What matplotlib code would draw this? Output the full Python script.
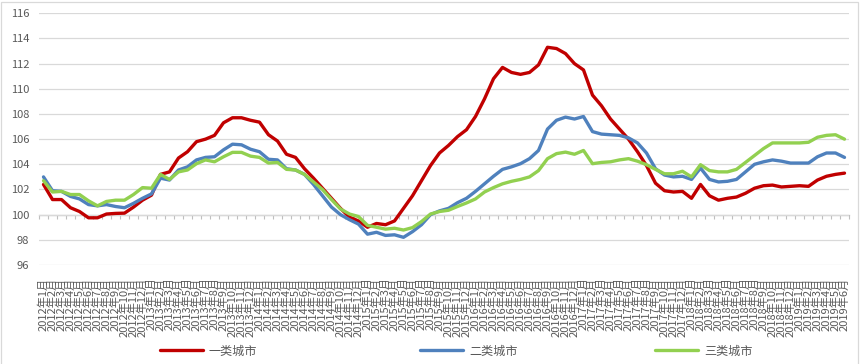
import matplotlib
matplotlib.use('Agg')
import matplotlib.pyplot as plt
import numpy as np
from matplotlib.patches import Rectangle

plt.rcParams['font.family'] = ['Noto Sans CJK SC', 'DejaVu Sans']

years = [2012, 2013, 2014, 2015, 2016, 2017, 2018, 2019]
months = [1, 2, 3, 4, 5, 6, 7, 8, 9, 10, 11, 12]
labels = [f"{y}年{m}月" for y in years for m in months][:90]

tier1 = [102.4, 101.2, 101.2, 100.55, 100.25, 99.75, 99.75, 100.05, 100.1, 100.12,
         100.6, 101.15, 101.55, 103.2, 103.4, 104.5, 105.0, 105.8, 106.0, 106.3,
         107.3, 107.7, 107.7, 107.5, 107.35, 106.35, 105.85, 104.8, 104.55, 103.65,
         102.9, 102.1, 101.3, 100.5, 99.8, 99.5, 99.0, 99.3, 99.2, 99.5,
         100.5, 101.5, 102.7, 103.9, 104.9, 105.5, 106.2, 106.75, 107.8, 109.2,
         110.8, 111.7, 111.3, 111.15, 111.3, 111.9, 113.3, 113.2, 112.8, 112.0,
         111.5, 109.5, 108.65, 107.6, 106.8, 106.0, 105.0, 103.9, 102.5, 101.9,
         101.8, 101.85, 101.3, 102.4, 101.5, 101.15, 101.3, 101.4, 101.7, 102.1,
         102.3, 102.35, 102.2, 102.25, 102.3, 102.25, 102.75, 103.05, 103.2, 103.3]

tier2 = [103.0, 101.9, 101.85, 101.45, 101.25, 100.8, 100.7, 100.8, 100.65, 100.55,
         100.9, 101.3, 101.65, 102.9, 102.75, 103.55, 103.8, 104.35, 104.55, 104.6,
         105.15, 105.6, 105.55, 105.2, 105.0, 104.4, 104.35, 103.65, 103.55, 103.2,
         102.4, 101.5, 100.6, 100.0, 99.6, 99.25, 98.45, 98.6, 98.35, 98.4,
         98.2, 98.65, 99.2, 100.0, 100.3, 100.5, 100.95, 101.3, 101.85, 102.45,
         103.05, 103.6, 103.8, 104.05, 104.45, 105.1, 106.8, 107.5, 107.75, 107.6,
         107.8, 106.6, 106.4, 106.35, 106.3, 106.1, 105.7, 104.9, 103.65, 103.15,
         103.0, 103.05, 102.8, 103.7, 102.8, 102.6, 102.65, 102.8, 103.4, 104.0,
         104.2, 104.35, 104.25, 104.1, 104.1, 104.1, 104.6, 104.9, 104.9, 104.55]

tier3 = [102.7, 101.8, 101.85, 101.6, 101.6, 101.1, 100.7, 101.05, 101.15, 101.15,
         101.6, 102.15, 102.1, 103.2, 102.8, 103.4, 103.55, 104.05, 104.35, 104.2,
         104.6, 104.95, 104.95, 104.65, 104.55, 104.1, 104.15, 103.6, 103.55, 103.2,
         102.6, 102.0, 101.2, 100.45, 100.05, 99.85, 99.15, 99.0, 98.85, 98.92,
         98.78, 98.97, 99.45, 100.05, 100.25, 100.35, 100.65, 100.93, 101.25, 101.8,
         102.15, 102.45, 102.65, 102.8, 103.0, 103.5, 104.45, 104.85, 104.97, 104.8,
         105.1, 104.05, 104.15, 104.2, 104.35, 104.45, 104.25, 103.97, 103.6, 103.25,
         103.25, 103.45, 103.0, 103.97, 103.5, 103.4, 103.4, 103.6, 104.15, 104.7,
         105.25, 105.7, 105.7, 105.7, 105.7, 105.75, 106.15, 106.3, 106.35, 106.0]

series_names = ['一类城市', '二类城市', '三类城市']
series_values = [tier1, tier2, tier3]
colors = ['#C00000', '#4F81BD', '#92D050']

y_min, y_max, y_step = 96, 116, 2
x_axis_cross = 100

fig = plt.figure(figsize=(8.62, 3.64), dpi=100)
fig.patch.set_facecolor('white')
ax = fig.add_axes([39 / 862, 99 / 364, 810 / 862, 251.7 / 364])

x = np.arange(len(labels))
for vals, name, c in zip(series_values, series_names, colors):
    ax.plot(x, vals, color=c, lw=2.4, label=name, solid_joinstyle='round',
            solid_capstyle='round')

ax.set_xlim(-0.5, len(labels) - 0.5)
ax.set_ylim(y_min, y_max)
ax.set_yticks(np.arange(y_min, y_max + 1, y_step))
ax.grid(axis='y', color='#D9D9D9', lw=0.9)
ax.grid(axis='x', visible=False)
ax.set_axisbelow(True)
for s in ax.spines.values():
    s.set_visible(False)
ax.tick_params(axis='y', length=0, pad=7, labelsize=8, labelcolor='#595959')
ax.set_xticks(x)
ax.set_xticklabels(labels, rotation=90, fontsize=8, color='#595959')
ax.tick_params(axis='x', length=0, pad=9)
for t in ax.get_xticklabels():
    t.set_verticalalignment('top')

sec = ax.secondary_xaxis((x_axis_cross - y_min) / (y_max - y_min))
sec.set_xticks(np.arange(-0.5, len(labels), 1))
sec.tick_params(axis='x', length=3.2, width=0.8, color='#BFBFBF',
                labelbottom=False, labeltop=False, direction='out')
for s in sec.spines.values():
    s.set_color('#BFBFBF')
    s.set_linewidth(0.9)

handles, lbls = ax.get_legend_handles_labels()
legend_x = [160 / 862, 420 / 862, 655 / 862]
for h, l, lx in zip(handles, lbls, legend_x):
    fig.legend([h], [l], loc='center left', bbox_to_anchor=(lx, 13 / 364),
               frameon=False, fontsize=8.7, handlelength=3.6, borderpad=0,
               borderaxespad=0, handletextpad=0.45, labelcolor='#595959')

fig.add_artist(Rectangle((0.8 / 862, -0.05), 857 / 862, 1.05 - 2 / 364,
                         transform=fig.transFigure, fill=False,
                         edgecolor='#D9D9D9', lw=0.9, clip_on=False))

fig.savefig('out.png', dpi=100, facecolor='white')
